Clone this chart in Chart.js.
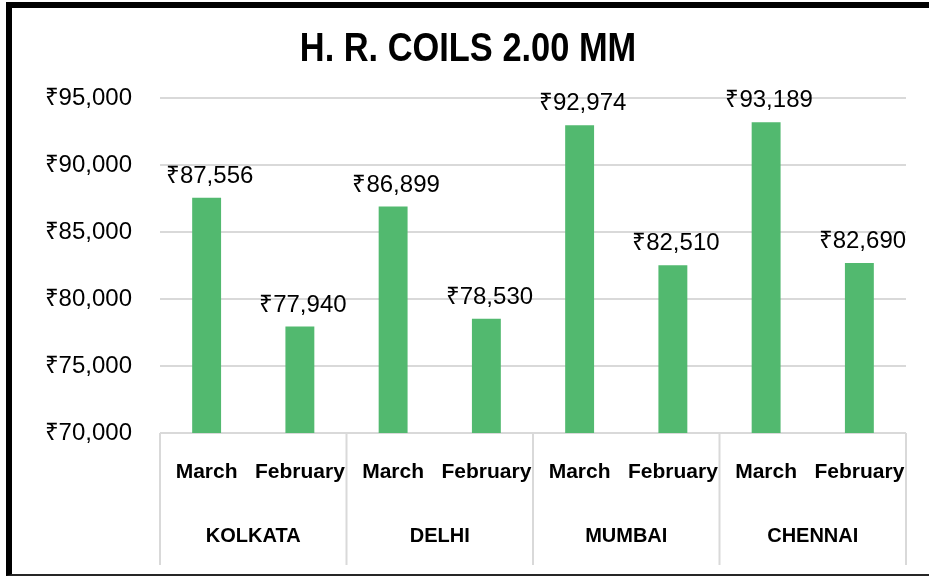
<!DOCTYPE html>
<html lang="en">
<head>
<meta charset="UTF-8">
<title>H. R. COILS 2.00 MM</title>
<script src="https://cdn.jsdelivr.net/npm/chart.js"></script>
<style>
  html, body { margin: 0; padding: 0; background: #fff; overflow: hidden; }
  #wrap { position: relative; width: 929px; height: 576px; }
  #frame {
    position: absolute; left: 6px; top: 2px; width: 960px; height: 574px;
    border-left: 6px solid #000; border-top: 6px solid #000; border-bottom: 2px solid #262626;
    box-sizing: border-box; pointer-events: none;
  }
  #title {
    position: absolute; left: 0; top: 27px; width: 936px;
    text-align: center; color: #000;
    font: bold 40px/40px 'Liberation Sans', Arial, sans-serif;
    transform: scaleX(0.86); transform-origin: 468px 0;
    white-space: nowrap;
  }
</style>
</head>
<body>
<div id="wrap">
  <canvas id="chart" width="929" height="576"></canvas>
  <div id="title">H. R. COILS 2.00 MM</div>
  <div id="frame"></div>
</div>
<script>
// data
const cities = ['KOLKATA', 'DELHI', 'MUMBAI', 'CHENNAI'];
const months = ['March', 'February'];
const marchPrices = [87556, 86899, 92974, 93189];
const febPrices = [77940, 78530, 82510, 82690];
const yMin = 70000, yMax = 95000, yStep = 5000;

// one bar per city/month pair
const labels = [];
const values = [];
cities.forEach((c, i) => {
  labels.push(months[0]); values.push(marchPrices[i]);
  labels.push(months[1]); values.push(febPrices[i]);
});

const rupee = v => '\u20B9' + v.toLocaleString('en-US');
const FONT = "'Liberation Sans', Arial, sans-serif";

// city row + separators under the month labels, value labels over bars
const groupPlugin = {
  id: 'groups',
  afterDraw(chart) {
    const ctx = chart.ctx, x = chart.scales.x, area = chart.chartArea;
    const edges = [];
    for (let g = 0; g <= cities.length; g++) {
      if (g === 0) edges.push(area.left);
      else if (g === cities.length) edges.push(area.right);
      else edges.push((x.getPixelForValue(g * 2 - 1) + x.getPixelForValue(g * 2)) / 2);
    }
    ctx.save();
    ctx.strokeStyle = '#d9d9d9';
    ctx.lineWidth = 2;
    edges.forEach(px => {
      ctx.beginPath();
      ctx.moveTo(px, area.bottom);
      ctx.lineTo(px, area.bottom + 132);
      ctx.stroke();
    });
    ctx.fillStyle = '#000';
    ctx.font = 'bold 20px ' + FONT;
    ctx.textAlign = 'center';
    ctx.textBaseline = 'middle';
    cities.forEach((c, g) => {
      const cx = (x.getPixelForValue(g * 2) + x.getPixelForValue(g * 2 + 1)) / 2;
      ctx.fillText(c, cx, area.bottom + 103);
    });
    ctx.restore();
  },
  afterDatasetsDraw(chart) {
    const ctx = chart.ctx;
    const meta = chart.getDatasetMeta(0);
    ctx.save();
    ctx.fillStyle = '#000';
    ctx.font = '24px ' + FONT;
    ctx.textAlign = 'center';
    ctx.textBaseline = 'alphabetic';
    meta.data.forEach((bar, i) => {
      ctx.fillText(rupee(values[i]), bar.x + 3, bar.y - 15);
    });
    ctx.restore();
  }
};

const ctx = document.getElementById('chart').getContext('2d');
const chart = new Chart(ctx, {
  type: 'bar',
  data: {
    labels: labels,
    datasets: [{
      data: values,
      backgroundColor: '#52B96F',
      barPercentage: 0.31,
      categoryPercentage: 1
    }]
  },
  options: {
    responsive: false,
    devicePixelRatio: 1,
    animation: false,
    layout: { padding: { left: 12, right: 23, top: 98, bottom: 0 } },
    plugins: {
      legend: { display: false },
      tooltip: { enabled: false },
      title: { display: false }
    },
    scales: {
      x: {
        grid: { display: false },
        border: { display: false },
        ticks: {
          color: '#000',
          font: { family: FONT, size: 21, weight: 'bold' },
          padding: 19,
          maxRotation: 0,
          autoSkip: false
        },
        afterFit(scale) { scale.height = 143; }
      },
      y: {
        min: yMin,
        max: yMax,
        grid: { color: '#d9d9d9', lineWidth: 2, drawTicks: false },
        border: { display: false },
        ticks: {
          stepSize: yStep,
          color: '#000',
          font: { family: FONT, size: 24 },
          padding: 28,
          callback: v => rupee(v)
        },
        afterFit(scale) { scale.width = 148; }
      }
    }
  },
  plugins: [groupPlugin]
});
</script>
</body>
</html>
